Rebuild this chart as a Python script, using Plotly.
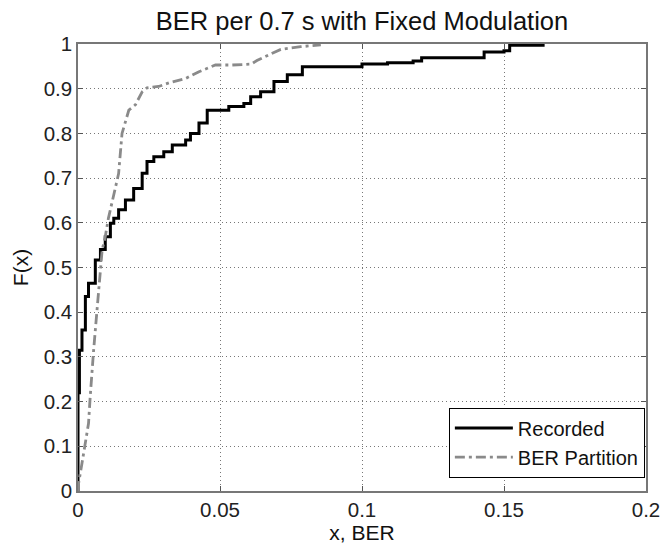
import plotly.graph_objects as go

# Recorded (step CDF)
rec_x = [0, 0, 0.0005, 0.0014, 0.0026, 0.0037, 0.0061, 0.0079, 0.0096, 0.0114, 0.0126,
         0.0143, 0.0167, 0.0196, 0.0226, 0.0243, 0.0267, 0.0302, 0.0332, 0.0379, 0.0396,
         0.0426, 0.0455, 0.0531, 0.0584, 0.0608, 0.0643, 0.069, 0.0737, 0.079, 0.1,
         0.109, 0.118, 0.121, 0.143, 0.150, 0.152, 0.1643]
rec_y = [0, 0.22, 0.315, 0.36, 0.435, 0.465, 0.517, 0.54, 0.569, 0.599, 0.61,
         0.629, 0.651, 0.677, 0.711, 0.737, 0.748, 0.759, 0.774, 0.785, 0.80,
         0.823, 0.852, 0.86, 0.867, 0.882, 0.893, 0.916, 0.931, 0.949, 0.955,
         0.958, 0.962, 0.969, 0.982, 0.985, 0.997, 0.997]

# BER Partition
par_x = [0, 0.0002, 0.0014, 0.0026, 0.0037, 0.0043, 0.0049, 0.0055, 0.0061, 0.0067,
         0.0073, 0.0079, 0.0085, 0.0096, 0.0107, 0.0143, 0.0155, 0.0179, 0.0202, 0.0226,
         0.0243, 0.0284, 0.032, 0.0379, 0.0426, 0.0484, 0.0543, 0.061, 0.063, 0.068,
         0.0714, 0.0784, 0.0855]
par_y = [0, 0.017, 0.062, 0.107, 0.151, 0.211, 0.271, 0.315, 0.36, 0.405,
         0.457, 0.502, 0.539, 0.569, 0.61, 0.71, 0.80, 0.852, 0.864, 0.893,
         0.902, 0.905, 0.913, 0.923, 0.938, 0.953, 0.953, 0.955, 0.963, 0.978,
         0.988, 0.994, 0.998]

x_ticks = [0, 0.05, 0.1, 0.15, 0.2]
x_labels = ["0", "0.05", "0.1", "0.15", "0.2"]
y_ticks = [0, 0.1, 0.2, 0.3, 0.4, 0.5, 0.6, 0.7, 0.8, 0.9, 1.0]
y_labels = ["0", "0.1", "0.2", "0.3", "0.4", "0.5", "0.6", "0.7", "0.8", "0.9", "1"]

FONT = "Liberation Sans, Arial, sans-serif"

fig = go.Figure()
fig.add_trace(go.Scatter(x=rec_x, y=rec_y, mode="lines", name="Recorded",
                         line=dict(color="black", width=3, shape="hv")))
fig.add_trace(go.Scatter(x=par_x, y=par_y, mode="lines", name="BER Partition",
                         line=dict(color="#8a8a8a", width=2.8, dash="10px,4px,3px,4px")))

axis_common = dict(
    showgrid=True, gridcolor="#777", griddash="1px,3px", gridwidth=1,
    zeroline=False, showline=True, linecolor="#777", linewidth=1.5, mirror="ticks",
    ticks="inside", ticklen=5, tickcolor="#555", automargin=False,
    tickfont=dict(family=FONT, size=20.5, color="#222"),
)

fig.update_layout(
    width=661, height=547,
    margin=dict(l=78, r=15, t=44, b=56, autoexpand=False),
    paper_bgcolor="white", plot_bgcolor="white",
    title=dict(text="BER per 0.7 s with Fixed Modulation", x=0.5, xref="paper",
               xanchor="center", y=0.962, yref="container", yanchor="middle",
               font=dict(family=FONT, size=25.5, color="#111")),
    xaxis=dict(range=[0, 0.2], tickvals=x_ticks, ticktext=x_labels,
               title=dict(text="x, BER", font=dict(family=FONT, size=21, color="#111"), standoff=0),
               **axis_common),
    yaxis=dict(range=[0, 1], tickvals=y_ticks, ticktext=y_labels, **axis_common),
    annotations=[dict(text="F(x)", xref="paper", yref="paper", x=-0.101, y=0.5,
                      xanchor="center", yanchor="middle", textangle=-90, showarrow=False,
                      font=dict(family=FONT, size=21, color="#111"))],
    legend=dict(x=0.998, y=0.03, xanchor="right", yanchor="bottom",
                bgcolor="white", bordercolor="black", borderwidth=1,
                font=dict(family=FONT, size=20, color="#111"),
                tracegroupgap=0, itemwidth=58),
    showlegend=True,
)

fig.write_html("out.html", config={"displayModeBar": False},
               post_script="document.body.style.margin='0';")
